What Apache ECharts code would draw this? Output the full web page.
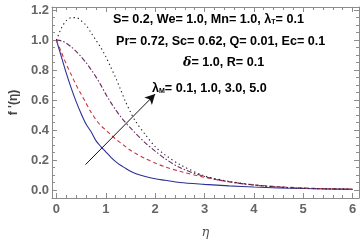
<!DOCTYPE html>
<html><head><meta charset="utf-8">
<script src="https://cdn.jsdelivr.net/npm/echarts@6/dist/echarts.min.js"></script>
<style>html,body{margin:0;padding:0;background:#fff}#c{width:360px;height:244px}</style>
</head><body><div id="c"></div>
<script>
// eta grid for each curve
const etaA = [0,0.1,0.2,0.3,0.4,0.5,0.6,0.7,0.8,0.9,1.0,1.1,1.2,1.3,1.4,1.5,1.6,1.8,2.0,2.2,2.5,3.0,3.5,4.0,4.5,5.0,5.5,6.0];
// lambda_M = 0.1 (solid blue)
const fM01 = [1.0,0.89,0.78,0.68,0.59,0.51,0.44,0.39,0.33,0.29,0.255,0.22,0.19,0.165,0.145,0.125,0.11,0.09,0.075,0.065,0.05,0.038,0.028,0.02,0.014,0.01,0.007,0.005];
// lambda_M = 1.0 (red dashed)
const fM10 = [1.0,0.92,0.84,0.77,0.70,0.64,0.58,0.52,0.47,0.43,0.40,0.37,0.34,0.315,0.29,0.265,0.245,0.21,0.18,0.155,0.125,0.085,0.055,0.035,0.022,0.014,0.009,0.006];
// lambda_M = 3.0 (purple dash-dot)
const fM30 = [1.0,0.995,0.98,0.955,0.925,0.89,0.85,0.805,0.755,0.70,0.64,0.585,0.535,0.49,0.45,0.415,0.38,0.315,0.26,0.21,0.15,0.09,0.055,0.033,0.02,0.012,0.008,0.005];
// lambda_M = 5.0 (black dotted)
const fM50 = [1.0,1.08,1.13,1.15,1.15,1.13,1.10,1.05,1.00,0.95,0.89,0.82,0.75,0.67,0.59,0.52,0.46,0.37,0.29,0.235,0.17,0.095,0.058,0.034,0.02,0.012,0.008,0.005];

const xMajor = [0,1,2,3,4,5,6];
const yMajor = [0,0.2,0.4,0.6,0.8,1.0,1.2];
const xMinor = [];
for (let i = 0; i <= 30; i++) { const v = +(i*0.2).toFixed(1); if (Math.abs(v - Math.round(v)) > 1e-6) xMinor.push(v); }
const yMinor = [];
for (let i = 0; i <= 24; i++) { const v = +(i*0.05).toFixed(2); if (Math.abs(v*5 - Math.round(v*5)) > 1e-6) yMinor.push(v); }

const arrowFrom = [0.59, 0.17];
const arrowTo = [2.0, 0.64];

const XMIN = -0.09, XMAX = 6.13, YMIN = -0.053, YMAX = 1.221;
const frameColor = '#8c8c8c';
const labelStyle = {color:'#666', fontSize:13, fontWeight:'bold', fontFamily:'Liberation Sans, Arial, sans-serif'};

function xAx(pos, showLabel, showLine, len, vals){
  return {type:'value', position:pos, min:XMIN, max:XMAX,
    axisLine:{show:showLine, onZero:false, lineStyle:{color:frameColor,width:1}},
    axisTick:{show:true, inside:true, length:len, customValues:vals, lineStyle:{color:frameColor}},
    axisLabel:{show:showLabel, customValues:vals, margin:5, ...labelStyle, formatter:v=>String(v)},
    splitLine:{show:false}};
}
function yAx(pos, showLabel, showLine, len, vals){
  return {type:'value', position:pos, min:YMIN, max:YMAX,
    axisLine:{show:showLine, onZero:false, lineStyle:{color:frameColor,width:1}},
    axisTick:{show:true, inside:true, length:len, customValues:vals, lineStyle:{color:frameColor}},
    axisLabel:{show:showLabel, customValues:vals, margin:3, ...labelStyle, formatter:v=>v.toFixed(1)},
    splitLine:{show:false}};
}

const xAxes = [
  xAx('bottom', true, true, 5, xMajor),
  xAx('bottom', false, false, 3, xMinor),
  xAx('top', false, true, 5, xMajor),
  xAx('top', false, false, 3, xMinor)
];
xAxes[0].name = 'η';
xAxes[0].nameLocation = 'middle';
xAxes[0].nameGap = 28;
xAxes[0].nameTextStyle = {color:'#555', fontSize:13, fontStyle:'italic', fontFamily:'DejaVu Serif, serif'};
const yAxes = [
  yAx('left', true, true, 5, yMajor),
  yAx('left', false, false, 3, yMinor),
  yAx('right', false, true, 5, yMajor),
  yAx('right', false, false, 3, yMinor)
];
yAxes[0].name = "f '(η)";
yAxes[0].nameLocation = 'middle';
yAxes[0].nameGap = 30;
yAxes[0].nameTextStyle = {color:'#444', fontSize:12, fontWeight:'bold', fontFamily:'Liberation Sans, Arial, sans-serif'};

function pair(ys){ return etaA.map((x,i)=>[x, ys[i]]); }
function ser(ys, color, type){
  return {type:'line', data:pair(ys), xAxisIndex:0, yAxisIndex:0, showSymbol:false, smooth:0.3,
    lineStyle:{color:color, width:1.1, type:type}, silent:true, animation:false};
}

const chart = echarts.init(document.getElementById('c'), null, {renderer:'canvas'});
const txt = {fontSize:12.6, fontWeight:'bold', fill:'#000', fontFamily:'Liberation Sans, Arial, sans-serif'};
chart.setOption({
  animation:false,
  grid:{left:44, right:1, top:7, bottom:44, containLabel:false},
  xAxis:xAxes, yAxis:yAxes,
  series:[
    ser(fM01, '#2e2e96', 'solid'),
    ser(fM10, '#cc3340', [4,3]),
    ser(fM30, '#6e2a68', [5,2,1.5,2]),
    ser(fM50, '#222222', [1.3,3]),
    {type:'line', data:[], xAxisIndex:0, yAxisIndex:0,
     markLine:{silent:true, symbol:['none','arrow'], symbolSize:[8,10], label:{show:false},
       lineStyle:{color:'#111', width:1, type:'solid'},
       data:[[{coord:arrowFrom},{coord:arrowTo}]]}}
  ],
  graphic:[
    {type:'text', left:113, top:13, style:{...txt, text:'{a|S= 0.2, We= 1.0, Mn= 1.0, λ}{s|T}{a|= 0.1}',
      rich:{a:{...txt}, s:{...txt, fontSize:7, padding:[6,0,0,0]}}}},
    {type:'text', left:116, top:35, style:{...txt, text:'Pr= 0.72, Sc= 0.62, Q= 0.01, Ec= 0.1'}},
    {type:'text', left:183, top:56, style:{...txt, text:'{i|δ}{a|= 1.0, R= 0.1}',
      rich:{i:{...txt, fontStyle:'italic', fontFamily:'DejaVu Serif, serif'}, a:{...txt}}}},
    {type:'text', left:152, top:82, style:{...txt, text:'{a|λ}{s|M}{a|= 0.1, 1.0, 3.0, 5.0}',
      rich:{a:{...txt}, s:{...txt, fontSize:7, padding:[6,0,0,0]}}}}
  ]
});
</script></body></html>
